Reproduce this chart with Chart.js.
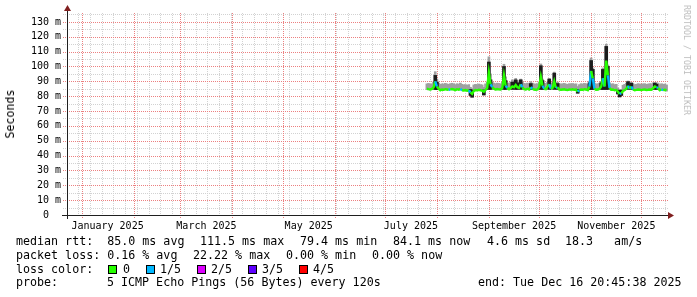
<!DOCTYPE html>
<html><head><meta charset="utf-8">
<script src="https://cdn.jsdelivr.net/npm/chart.js@4/dist/chart.umd.min.js"></script>
<style>
html,body{margin:0;padding:0;background:#fff;}
#wrap{position:relative;width:697px;height:297px;overflow:hidden;background:#fff;}
#c{position:absolute;left:0;top:0;}
.t{position:absolute;font-family:'DejaVu Sans Mono',monospace;font-size:11.66px;line-height:14px;white-space:pre;color:#000;}
.box{position:absolute;width:7px;height:7px;border:1px solid #000;}
</style></head><body>
<div id="wrap">
<canvas id="c" width="697" height="297"></canvas>
<div class="t" style="left:10px;top:114px;transform:translate(-50%,-50%) rotate(-90deg);">Seconds</div>
<div class="t" style="left:687px;top:60px;font-size:8.3px;line-height:10px;color:#bdbdbd;transform:translate(-50%,-50%) rotate(90deg);">RRDTOOL / TOBI OETIKER</div>

<div class="t" style="left:16px;top:234px;">median rtt:  85.0 ms avg</div>
<div class="t" style="left:200px;top:234px;">111.5 ms max</div>
<div class="t" style="left:300px;top:234px;">79.4 ms min</div>
<div class="t" style="left:393px;top:234px;">84.1 ms now</div>
<div class="t" style="left:487px;top:234px;">4.6 ms sd</div>
<div class="t" style="left:565px;top:234px;">18.3   am/s</div>

<div class="t" style="left:16px;top:247.7px;">packet loss: 0.16 % avg</div>
<div class="t" style="left:193px;top:247.7px;">22.22 % max</div>
<div class="t" style="left:286px;top:247.7px;">0.00 % min</div>
<div class="t" style="left:372px;top:247.7px;">0.00 % now</div>

<div class="t" style="left:16px;top:261.5px;">loss color:</div>
<div class="box" style="left:108px;top:265px;background:#26ff00;"></div>
<div class="t" style="left:123px;top:261.5px;">0</div>
<div class="box" style="left:146px;top:265px;background:#00b8ff;"></div>
<div class="t" style="left:160px;top:261.5px;">1/5</div>
<div class="box" style="left:197px;top:265px;background:#dd00ff;"></div>
<div class="t" style="left:211px;top:261.5px;">2/5</div>
<div class="box" style="left:248px;top:265px;background:#5e00ff;"></div>
<div class="t" style="left:262px;top:261.5px;">3/5</div>
<div class="box" style="left:299px;top:265px;background:#ff0000;"></div>
<div class="t" style="left:313px;top:261.5px;">4/5</div>

<div class="t" style="left:16px;top:275.2px;">probe:</div>
<div class="t" style="left:107px;top:275.2px;">5 ICMP Echo Pings (56 Bytes) every 120s</div>
<div class="t" style="left:478px;top:275.2px;">end: Tue Dec 16 20:45:38 2025</div>
</div>
<script>
// x values: days since 1 Jan 2025
const days = [206,207,208,209,210,211,212,213,214,215,216,217,218,219,220,221,222,223,224,225,
226,227,228,229,230,231,232,233,234,235,236,237,238,239,240,241,242,243,244,245,
246,247,248,249,250,251,252,253,254,255,256,257,258,259,260,261,262,263,264,265,
266,267,268,269,270,271,272,273,274,275,276,277,278,279,280,281,282,283,284,285,
286,287,288,289,290,291,292,293,294,295,296,297,298,299,300,301,302,303,304,305,
306,307,308,309,310,311,312,313,314,315,316,317,318,319,320,321,322,323,324,325,
326,327,328,329,330,331,332,333,334,335,336,337,338,339,340,341,342,343,344,345,
346,347,348,349];
// median rtt (ms)
const medianRtt = [85.0,84.7,84.5,84.9,86.0,90.0,86.5,85.0,84.0,84.5,
84.3,84.7,84.5,84.2,84.6,84.8,84.5,84.1,84.7,84.4,
84.9,84.0,83.8,84.1,83.7,84.0,82.5,81.5,83.5,84.1,
83.9,84.3,84.0,83.7,83.0,84.3,85.5,96.0,88.0,86.0,
85.0,84.5,84.8,84.6,84.5,85.5,94.0,87.0,85.5,84.7,
85.5,86.5,86.0,87.5,86.0,85.5,88.0,86.0,84.7,84.5,
85.0,84.5,86.0,85.0,84.5,84.3,84.5,86.0,93.0,87.0,
85.0,84.7,86.5,88.0,85.0,85.5,90.0,85.5,86.0,84.5,
84.3,84.5,84.7,84.3,84.1,84.5,84.4,84.6,84.3,84.5,
83.0,84.0,84.5,84.3,84.7,84.5,84.0,86.5,97.0,92.0,
85.0,84.3,84.5,85.0,86.5,92.0,86.5,104.0,94.0,85.5,
84.3,84.5,84.0,84.2,83.0,81.5,82.0,83.5,84.1,85.0,
87.0,85.0,86.5,84.5,84.0,84.2,84.5,84.3,84.1,84.4,
84.5,84.2,84.3,84.5,84.4,85.5,86.5,86.0,85.5,84.0,
84.5,84.1,84.3,84.1];
// smoke envelope top / bottom (ms)
const smokeHi = [88.3,88.6,88.0,88.4,89.5,96.5,91.5,88.8,88.0,88.3,
88.2,88.6,88.3,88.0,88.4,88.7,88.3,87.8,88.4,88.1,
88.8,88.0,87.6,87.8,87.4,87.8,86.0,85.0,87.6,88.0,
87.8,88.2,87.8,87.6,86.0,88.3,89.5,106.5,95.0,89.5,
88.8,88.4,88.8,88.6,88.3,89.5,101.5,93.0,89.0,88.6,
89.5,91.0,89.8,92.0,90.5,89.0,91.5,89.5,88.6,88.4,
88.8,88.4,89.8,88.8,88.3,88.2,88.4,89.5,101.7,91.5,
88.8,88.6,89.5,92.0,88.8,89.0,96.2,89.0,89.5,88.4,
88.2,88.4,88.6,88.2,88.0,88.4,88.3,88.5,88.2,88.3,
86.5,87.8,88.4,88.2,88.6,88.4,88.0,90.0,105.7,99.0,
88.8,88.2,88.4,88.8,90.0,99.0,91.0,115.0,101.0,89.0,
88.2,88.4,87.8,88.0,85.5,83.5,84.5,87.4,88.0,88.8,
90.2,88.8,89.2,88.4,87.8,88.0,88.4,88.2,88.0,88.3,
88.4,88.0,88.2,88.4,88.3,89.0,89.2,89.0,88.8,87.8,
88.4,88.0,88.2,87.6];
const smokeLo = [84.5,84.3,84.2,84.5,84.6,84.6,84.5,84.5,83.9,84.2,
84.1,84.4,84.2,84.0,84.3,84.5,84.2,83.8,84.4,84.1,
84.4,83.8,83.6,83.8,83.4,83.7,80.5,79.3,83.3,83.8,
83.7,84.0,83.8,83.6,80.8,84.0,84.5,84.6,84.6,84.6,
84.5,84.2,84.4,84.3,84.2,84.6,84.6,84.6,84.6,84.4,
84.6,84.6,84.6,84.6,84.6,84.6,84.6,84.6,84.4,84.2,
84.4,84.2,84.6,84.4,84.2,84.0,84.2,84.6,84.6,84.6,
84.6,84.4,84.6,84.6,84.4,84.6,84.6,84.6,84.6,84.2,
84.0,84.2,84.4,84.0,83.8,84.2,84.1,84.3,84.0,84.2,
82.0,83.7,84.2,84.0,84.4,84.2,83.7,84.6,84.6,84.6,
84.5,84.0,84.2,84.6,84.6,84.6,84.6,84.6,84.6,84.6,
84.0,84.2,83.7,83.9,81.5,79.5,80.5,83.3,83.8,84.6,
84.6,84.6,84.6,84.2,83.7,83.9,84.2,84.0,83.8,84.1,
84.2,83.9,84.0,84.2,84.1,84.6,84.6,84.6,84.6,83.7,
84.2,83.8,84.0,83.4];
// dense (dark) smoke on spikes / dips
const darkDays = [211,212,232,233,240,243,244,252,253,257,259,260,262,268,274,275,279,282,284,296,303,304,305,310,311,312,313,314,320,321,322,326,328,342,343];
const darkLo = [84.5,84.5,80.5,79.3,80.8,84.6,84.6,84.6,84.6,84.6,84.6,84.6,84.6,84.6,84.6,84.6,84.6,84.6,84.6,82.0,84.6,84.6,84.6,84.6,84.6,84.6,84.6,84.6,81.5,79.5,80.5,84.6,84.6,84.6,84.6];
const darkHi = [94.0,89.5,84.5,84.0,84.2,103.0,91.0,100.0,90.5,89.5,91.0,89.0,91.0,88.5,100.5,90.5,91.5,95.5,88.5,84.5,89.0,104.0,98.0,89.0,98.0,90.0,113.5,100.0,84.0,84.0,84.0,89.8,88.8,88.8,88.0];
// days with 1/5 packet loss
const loss1Days = [211,219,226,231,244,253,262,268,275,279,283,296,303,305,311,314,321,326,328,343,346];

const monthStarts = [0,31,59,90,120,151,181,212,243,273,304,334];
const monthLabels = ['January 2025','March 2025','May 2025','July 2025','September 2025','November 2025'];
const monthLabelDays = [15.5,74.5,135.5,196.5,258,319];
const xMin = -8.7, xMax = 349.86;

const LOSS_COLORS = ['#26ff00','#00b8ff','#dd00ff','#5e00ff','#ff0000'];
const RED = '#ec8080', GREY = '#d2d2d2';
const lossOf = d => loss1Days.includes(d) ? 1 : 0;

const gridTicks = (() => {
  const s = new Set(monthStarts);
  for (let d = -2; d <= xMax; d += 7) s.add(d);
  return [...s].filter(v => v >= xMin && v <= xMax).sort((a,b)=>a-b);
})();
const yTicks = (() => { const a=[]; for (let v=0; v<=135; v+=5) a.push(v); return a; })();

// dotted rrdtool-style grid, positioned through the chart's own scales
const gridPlugin = {
  id: 'rrdgrid',
  beforeDatasetsDraw(chart) {
    const {ctx, chartArea: a, scales} = chart;
    const x = scales.x, y = scales.y;
    ctx.save();
    ctx.fillStyle = GREY;
    gridTicks.forEach(v => {
      if (monthStarts.includes(v)) return;
      const px = Math.round(x.getPixelForValue(v));
      for (let py = Math.round(a.top); py <= a.bottom; py += 2) ctx.fillRect(px, py, 1, 1);
    });
    yTicks.forEach(v => {
      if (v % 10 === 0) return;
      const py = Math.round(y.getPixelForValue(v));
      for (let px = Math.round(a.left) - 4; px <= a.right; px += 2) ctx.fillRect(px, py, 1, 1);
    });
    ctx.fillStyle = RED;
    monthStarts.forEach(v => {
      if (v < xMin || v > xMax) return;
      const px = Math.round(x.getPixelForValue(v));
      for (let py = Math.round(a.top); py <= a.bottom + 3; py += 2) ctx.fillRect(px, py, 1, 1);
    });
    yTicks.forEach(v => {
      if (v % 10 !== 0 || v === 0) return;
      const py = Math.round(y.getPixelForValue(v));
      for (let px = Math.round(a.left) - 4; px <= a.right; px += 2) ctx.fillRect(px, py, 1, 1);
    });
    ctx.restore();
  }
};

const axesPlugin = {
  id: 'axes',
  afterDatasetsDraw(chart) {
    const {ctx, chartArea: a} = chart;
    ctx.save();
    ctx.strokeStyle = '#1f1f1f'; ctx.lineWidth = 1;
    ctx.beginPath();
    ctx.moveTo(a.left + 0.5, a.bottom + 4); ctx.lineTo(a.left + 0.5, a.top - 3);
    ctx.moveTo(a.left - 5, a.bottom + 0.5); ctx.lineTo(a.right + 2, a.bottom + 0.5);
    ctx.stroke();
    ctx.fillStyle = '#801f1f';
    ctx.beginPath();
    ctx.moveTo(a.left + 0.5 - 3.5, a.top - 2); ctx.lineTo(a.left + 0.5 + 3.5, a.top - 2); ctx.lineTo(a.left + 0.5, a.top - 8);
    ctx.closePath(); ctx.fill();
    ctx.beginPath();
    ctx.moveTo(a.right, a.bottom + 0.5 - 3.5); ctx.lineTo(a.right, a.bottom + 0.5 + 3.5); ctx.lineTo(a.right + 6, a.bottom + 0.5);
    ctx.closePath(); ctx.fill();
    ctx.restore();
  }
};

new Chart(document.getElementById('c'), {
  type: 'line',
  data: {
    datasets: [
      { type: 'line', data: days.map((d,i)=>({x:d, y:medianRtt[i]})), borderColor: '#26ff00', borderWidth: 2.4,
        pointRadius: 0, tension: 0, order: 0,
        segment: { borderColor: c => LOSS_COLORS[lossOf(days[c.p0DataIndex])] } },
      { type: 'bar', data: darkDays.map((d,i)=>({x:d, y:[darkLo[i], darkHi[i]]})), backgroundColor: '#1c1c1c',
        barThickness: 3, grouped: false, order: 1 },
      { type: 'bar', data: days.map((d,i)=>({x:d, y:[smokeLo[i], smokeHi[i]]})), backgroundColor: '#a0a0a0',
        barThickness: 2, grouped: false, order: 2 }
    ]
  },
  options: {
    responsive: false, animation: false, devicePixelRatio: 1,
    layout: { padding: { left: 0, right: 29, top: 13, bottom: 0 } },
    plugins: { legend: { display: false }, tooltip: { enabled: false } },
    scales: {
      x: {
        type: 'linear', position: 'bottom', min: xMin, max: xMax, offset: false, weight: 0,
        afterBuildTicks: s => { s.ticks = gridTicks.map(v => ({value: v})); },
        afterFit: s => { s.height = 4; },
        ticks: { display: false },
        grid: { display: false, drawTicks: false },
        border: { display: false }
      },
      x2: {
        type: 'linear', position: 'bottom', min: xMin, max: xMax, offset: false, weight: 1,
        afterBuildTicks: s => { s.ticks = monthLabelDays.map(v => ({value: v})); },
        afterFit: s => { s.height = 78; },
        ticks: { autoSkip: false, maxRotation: 0, padding: 1, color: '#000',
          font: { family: 'DejaVu Sans Mono', size: 10 },
          callback: (v, i) => monthLabels[i] },
        grid: { display: false, drawTicks: false },
        border: { display: false }
      },
      y: {
        type: 'linear', min: 0, max: 136,
        afterBuildTicks: s => { s.ticks = yTicks.map(v => ({value: v})); },
        afterFit: s => { s.width = 67; },
        ticks: { autoSkip: false, padding: 6, color: '#000',
          font: { family: 'DejaVu Sans Mono', size: 10 },
          callback: v => v % 10 === 0 ? (v === 0 ? '0  ' : v + ' m') : '' },
        grid: { display: false, drawTicks: false },
        border: { display: false }
      }
    }
  },
  plugins: [gridPlugin, axesPlugin]
});
</script>
</body></html>
